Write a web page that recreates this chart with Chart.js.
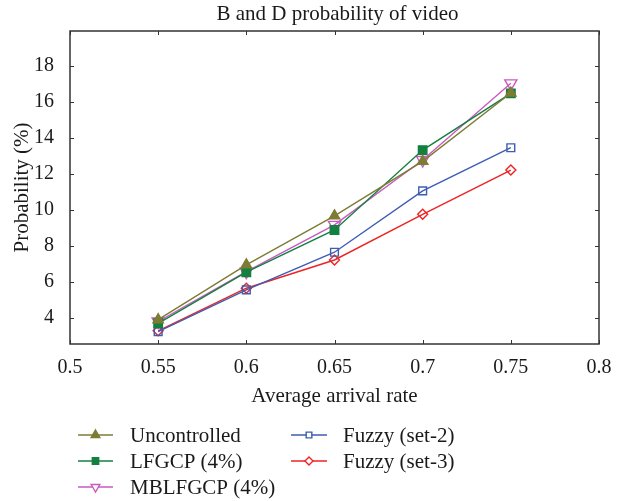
<!DOCTYPE html>
<html>
<head>
<meta charset="utf-8">
<script src="https://cdn.jsdelivr.net/npm/chart.js@4.4.1/dist/chart.umd.min.js"></script>
<style>
  html, body { margin: 0; padding: 0; background: #fff; }
  #wrap { width: 623px; height: 501px; }
</style>
</head>
<body>
<div id="wrap"><canvas id="chart" width="623" height="501"></canvas></div>
<script>
// arrival rates on the x axis
const arrivalRates = [0.55, 0.6, 0.65, 0.7, 0.75];

// blocking + dropping probability (%) for each scheme
const uncontrolled = [3.9, 6.95, 9.67, 12.7, 16.5];
const lfgcp = [3.7, 6.54, 8.89, 13.33, 16.48];
const mblfgcp = [3.8, 6.57, 9.17, 12.78, 17.04];
const fuzzySet2 = [3.24, 5.56, 7.65, 11.06, 13.46];
const fuzzySet3 = [3.28, 5.65, 7.22, 9.76, 12.22];

const xTicks = [0.5, 0.55, 0.6, 0.65, 0.7, 0.75, 0.8];
const yTicks = [4, 6, 8, 10, 12, 14, 16, 18];

const FONT = '"Liberation Serif", "DejaVu Serif", serif';
const AXIS = '#333';
const TEXT = '#1a1a1a';

function pts(values) {
  return values.map((v, i) => ({ x: arrivalRates[i], y: v }));
}

const series = [
  { label: 'Uncontrolled', data: uncontrolled, color: '#7d7c33', style: 'triangle', rot: 0, fill: true, r: 6, lr: 5, col: 0, row: 0 },
  { label: 'LFGCP (4%)', data: lfgcp, color: '#13803f', style: 'rect', rot: 0, fill: true, r: 6, lr: 4.5, col: 0, row: 1 },
  { label: 'MBLFGCP (4%)', data: mblfgcp, color: '#c95ac0', style: 'triangle', rot: 180, fill: false, r: 7, lr: 5, col: 0, row: 2 },
  { label: 'Fuzzy (set-2)', data: fuzzySet2, color: '#3d5db3', style: 'rect', rot: 0, fill: false, r: 5.5, lr: 4, col: 1, row: 0 },
  { label: 'Fuzzy (set-3)', data: fuzzySet3, color: '#ee2424', style: 'rectRot', rot: 0, fill: false, r: 5, lr: 4, col: 1, row: 1 }
];

// box frame, inward ticks on all four sides, and the title centred over the plot
const frame = {
  id: 'frame',
  afterDatasetsDraw(chart) {
    const { ctx, chartArea: a, scales: { x, y } } = chart;
    ctx.save();
    ctx.strokeStyle = AXIS;
    ctx.lineWidth = 1.5;
    ctx.strokeRect(a.left, a.top, a.right - a.left, a.bottom - a.top);
    ctx.lineWidth = 1;
    const len = 4;
    ctx.beginPath();
    xTicks.forEach(t => {
      const px = Math.round(x.getPixelForValue(t)) + 0.5;
      ctx.moveTo(px, a.bottom); ctx.lineTo(px, a.bottom - len);
      ctx.moveTo(px, a.top); ctx.lineTo(px, a.top + len);
    });
    yTicks.forEach(t => {
      const py = Math.round(y.getPixelForValue(t)) + 0.5;
      ctx.moveTo(a.left, py); ctx.lineTo(a.left + len, py);
      ctx.moveTo(a.right, py); ctx.lineTo(a.right - len, py);
    });
    ctx.stroke();

    ctx.fillStyle = TEXT;
    ctx.font = '21px ' + FONT;
    ctx.textAlign = 'center';
    ctx.textBaseline = 'middle';
    ctx.fillText('B and D probability of video', (a.left + a.right) / 2 + 3, 14);
    ctx.restore();
  }
};

// two-column legend under the x axis title
const legendBlock = {
  id: 'legendBlock',
  afterDraw(chart) {
    const ctx = chart.ctx;
    const cols = [{ x0: 78, x1: 113, tx: 130 }, { x0: 291, x1: 327, tx: 343 }];
    const rows = [435, 461, 487];
    ctx.save();
    ctx.font = '21px ' + FONT;
    ctx.textBaseline = 'middle';
    ctx.fillStyle = TEXT;
    series.forEach(s => {
      const c = cols[s.col], yy = rows[s.row];
      ctx.strokeStyle = s.color;
      ctx.lineWidth = 1.4;
      ctx.beginPath();
      ctx.moveTo(c.x0, yy); ctx.lineTo(c.x1, yy);
      ctx.stroke();
      ctx.fillStyle = s.fill ? s.color : '#fff';
      Chart.helpers.drawPoint(ctx, { pointStyle: s.style, radius: s.lr, rotation: s.rot, borderWidth: 1.4 }, (c.x0 + c.x1) / 2, yy);
      ctx.fillStyle = TEXT;
      ctx.fillText(s.label, c.tx, yy + 1);
    });
    ctx.restore();
  }
};

new Chart(document.getElementById('chart'), {
  type: 'line',
  data: {
    datasets: series.map(s => ({
      label: s.label,
      data: pts(s.data),
      borderColor: s.color,
      backgroundColor: s.fill ? s.color : 'rgba(255,255,255,0)',
      pointBackgroundColor: s.fill ? s.color : 'rgba(255,255,255,0)',
      pointBorderColor: s.color,
      pointStyle: s.style,
      pointRotation: s.rot,
      pointRadius: s.r,
      pointBorderWidth: 1.4,
      borderWidth: 1.4,
      tension: 0
    }))
  },
  options: {
    responsive: false,
    animation: false,
    events: [],
    layout: { padding: { left: 0, right: 24, top: 31, bottom: 92 } },
    plugins: {
      legend: { display: false },
      tooltip: { enabled: false },
      title: { display: false }
    },
    scales: {
      x: {
        type: 'linear',
        min: 0.5,
        max: 0.8,
        afterBuildTicks: s => { s.ticks = xTicks.map(v => ({ value: v })); },
        afterFit: s => { s.height = 65; },
        border: { display: false },
        grid: { display: false },
        ticks: {
          color: TEXT,
          padding: 4,
          font: { family: FONT, size: 20 },
          callback: v => String(v)
        },
        title: {
          display: true,
          text: 'Average arrival rate',
          color: TEXT,
          font: { family: FONT, size: 21 },
          padding: { top: 2, bottom: 0 }
        }
      },
      y: {
        min: 2.55,
        max: 19.95,
        afterBuildTicks: s => { s.ticks = yTicks.map(v => ({ value: v })); },
        afterFit: s => { s.width = 70; },
        border: { display: false },
        grid: { display: false },
        ticks: {
          color: TEXT,
          padding: 8,
          font: { family: FONT, size: 20 }
        },
        title: {
          display: true,
          text: 'Probability (%)',
          color: TEXT,
          font: { family: FONT, size: 21 },
          padding: { top: 10, bottom: 0 }
        }
      }
    }
  },
  plugins: [frame, legendBlock]
});
</script>
</body>
</html>
